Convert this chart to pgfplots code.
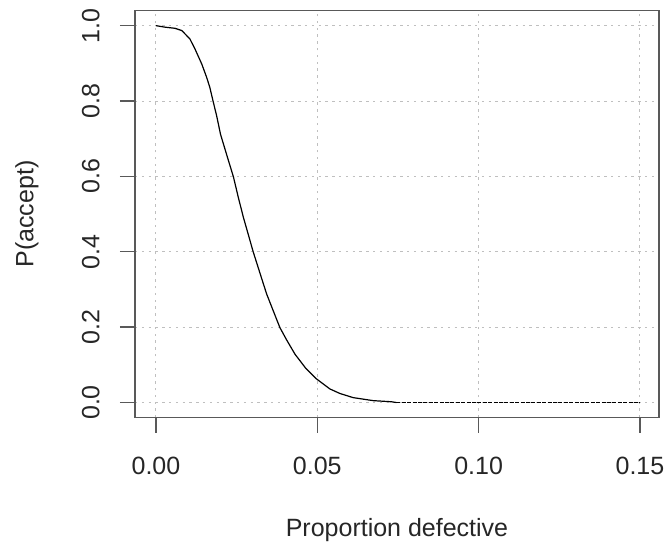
\documentclass[border=0pt]{standalone}
\usepackage{fontspec}
\setmainfont{Liberation Sans}
\usepackage{pgfplots}
\pgfplotsset{compat=1.18}
\begin{document}
\begin{tikzpicture}
\begin{axis}[
  scale only axis,
  width=262pt, height=203.5pt,
  xmin=-0.0065, xmax=0.1559,
  ymin=-0.04, ymax=1.04,
  xtick={0,0.05,0.10,0.15},
  xticklabels={0.00,0.05,0.10,0.15},
  ytick={0,0.2,0.4,0.6,0.8,1.0},
  yticklabels={0.0,0.2,0.4,0.6,0.8,1.0},
  tick align=outside,
  major tick length=7.5pt,
  xtick pos=bottom, ytick pos=left,
  axis line style={black!65, line width=0.8pt},
  tick style={black!65, line width=0.7pt},
  grid=major,
  grid style={dash pattern=on 1.2pt off 2.2pt, black!25, line width=0.5pt},
  tick label style={font=\fontsize{12.5}{15}\selectfont, text=black!85, inner sep=0pt},
  xticklabel style={anchor=north},
  xticklabel shift=11.9pt,
  yticklabel style={rotate=90, anchor=south},
  yticklabel shift=10pt,
  label style={font=\fontsize{12.5}{15}\selectfont, text=black!85},
  xlabel={Proportion defective},
  ylabel={P(accept)},
  xlabel style={at={(axis description cs:0.5,-0.2752)}, anchor=center},
  ylabel style={at={(axis description cs:-0.2061,0.5)}, anchor=center, rotate=0},
]
\addplot[black, line width=0.6pt] coordinates {
(0.0000,1.000) (0.0028,0.996) (0.0059,0.993) (0.0080,0.987) (0.0105,0.965)
(0.0121,0.938) (0.0142,0.898) (0.0157,0.863) (0.0167,0.836) (0.0178,0.796)
(0.0188,0.761) (0.0200,0.712) (0.0220,0.655) (0.0240,0.599) (0.0255,0.545)
(0.0271,0.491) (0.0287,0.443) (0.0302,0.398) (0.0328,0.328) (0.0343,0.288)
(0.0365,0.240) (0.0384,0.199) (0.0405,0.166) (0.0431,0.128) (0.0465,0.090)
(0.0497,0.063) (0.0539,0.036) (0.0570,0.024) (0.0611,0.013) (0.0673,0.005)
(0.0730,0.002) (0.0745,0.000)
};
\addplot[black, line width=0.5pt, dash pattern=on 2pt off 0.7pt] coordinates {
(0.0745,0.000) (0.1000,0.000) (0.1500,0.000)
};
\coordinate (bl) at (rel axis cs:0,0);
\coordinate (tr) at (rel axis cs:1,1);
\end{axis}
\pgfresetboundingbox
\path ([shift={(-67.5pt,-62.6pt)}]bl) rectangle ([shift={(2.5pt,5.3pt)}]tr);
\end{tikzpicture}
\end{document}
